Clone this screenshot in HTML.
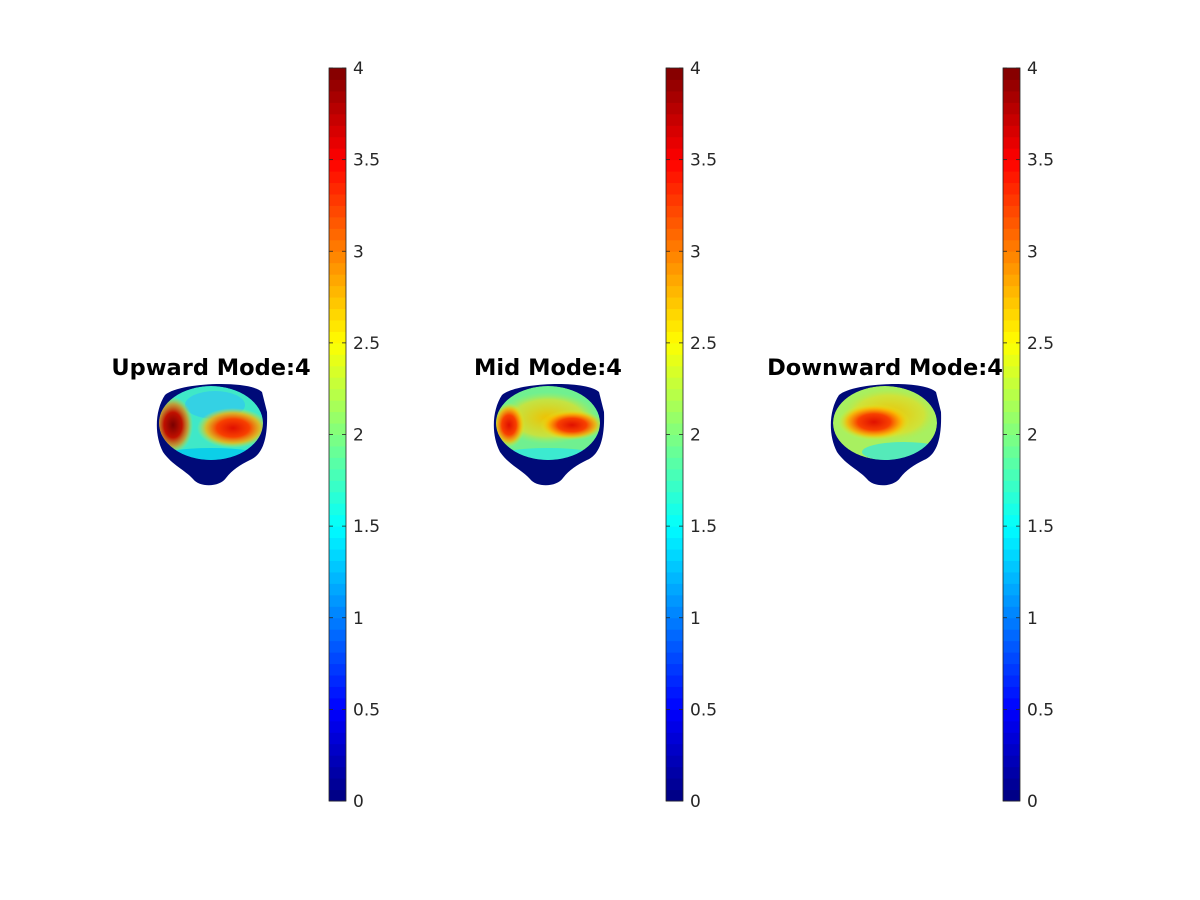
<!DOCTYPE html>
<html><head><meta charset="utf-8"><style>
body{margin:0;background:#fff;}
svg{display:block;font-family:"DejaVu Sans","Liberation Sans",sans-serif;}
</style></head><body>
<svg id="fig" width="1200" height="900" viewBox="0 0 1200 900">
<defs>
<radialGradient id="hotL" cx="50%" cy="50%" r="50%"><stop offset="0" stop-color="#7a0000"/><stop offset="0.45" stop-color="#c01000"/><stop offset="0.75" stop-color="#f08000" stop-opacity="0.7"/><stop offset="1" stop-color="#f0e000" stop-opacity="0"/></radialGradient>
<radialGradient id="hotR" cx="50%" cy="50%" r="50%"><stop offset="0" stop-color="#e01000"/><stop offset="0.45" stop-color="#f84000"/><stop offset="0.75" stop-color="#ffb000" stop-opacity="0.8"/><stop offset="1" stop-color="#e0f020" stop-opacity="0"/></radialGradient>
<radialGradient id="warm" cx="50%" cy="50%" r="50%"><stop offset="0" stop-color="#f0c000"/><stop offset="0.7" stop-color="#d8e030" stop-opacity="0.8"/><stop offset="1" stop-color="#a0f060" stop-opacity="0"/></radialGradient>
<clipPath id="inner"><ellipse cx="211" cy="423" rx="52" ry="37"/></clipPath>
<g id="shape">
<path d="M165,395 C180,382 250,380 262,392 L267,412 C268,440 262,455 250,460 C240,465 232,470 226,478 C220,487 200,488 193,479 C185,470 172,465 163,452 C154,435 155,410 165,395 Z" fill="#000a78"/>
</g>
</defs>
<g id="blobs"></g>
<g id="bars"></g>
</svg>
<script>
const titles=["Upward Mode:4","Mid Mode:4","Downward Mode:4"];
const tickValues=[0,0.5,1,1.5,2,2.5,3,3.5,4];
const tickLabels=["0","0.5","1","1.5","2","2.5","3","3.5","4"];
const cmin=0, cmax=4;
const NS="http://www.w3.org/2000/svg";
function el(t,a,p){const e=document.createElementNS(NS,t);for(const k in a)e.setAttribute(k,a[k]);p.appendChild(e);return e;}
function jet(v){const f=x=>Math.max(0,Math.min(1,x));
 const r=f(1.5-Math.abs(4*v-3)),g=f(1.5-Math.abs(4*v-2)),b=f(1.5-Math.abs(4*v-1));
 return `rgb(${Math.round(r*255)},${Math.round(g*255)},${Math.round(b*255)})`;}
const barTop=68, barBot=801, barW=17;
const y=v=>barBot-(v-cmin)/(cmax-cmin)*(barBot-barTop);
const offsets=[0,337,674];
const blobs=document.getElementById('blobs');
offsets.forEach((dx,i)=>{
 const g=el('g',{transform:`translate(${dx},0)`},blobs);
 
 
 el('use',{href:'#shape'},g);
 const c=el('g',{'clip-path':'url(#inner)'},g);
 if(i===0){
  el('ellipse',{cx:211,cy:423,rx:52,ry:37,fill:'#3fe8c8'},c);
  el('ellipse',{cx:215,cy:405,rx:30,ry:14,fill:'#30c8f0',opacity:0.7},c);
  el('ellipse',{cx:233,cy:428,rx:36,ry:20,fill:'url(#hotR)'},c);
  el('ellipse',{cx:173,cy:425,rx:20,ry:28,fill:'url(#hotL)'},c);
  el('ellipse',{cx:211,cy:456,rx:52,ry:8,fill:'#00c8f0',opacity:0.8},c);
 } else if(i===1){
  el('ellipse',{cx:211,cy:423,rx:52,ry:37,fill:'#70f090'},c);
  el('ellipse',{cx:211,cy:418,rx:50,ry:26,fill:'url(#warm)'},c);
  el('ellipse',{cx:235,cy:425,rx:32,ry:15,fill:'url(#hotR)'},c);
  el('ellipse',{cx:172,cy:425,rx:16,ry:22,fill:'url(#hotR)'},c);
  el('ellipse',{cx:211,cy:456,rx:52,ry:8,fill:'#30e8e0',opacity:0.8},c);
 } else {
  el('ellipse',{cx:211,cy:423,rx:52,ry:37,fill:'#a8f060'},c);
  el('ellipse',{cx:215,cy:415,rx:50,ry:28,fill:'url(#warm)'},c);
  el('ellipse',{cx:200,cy:422,rx:36,ry:18,fill:'url(#hotR)'},c);
  el('ellipse',{cx:230,cy:452,rx:42,ry:10,fill:'#40e8d0',opacity:0.8},c);
 }
 const t=el('text',{x:211,y:375,'text-anchor':'middle','font-size':'22.5','font-weight':'bold',fill:'#000'},g);
 
 
 t.textContent=titles[i];
});
const bars=document.getElementById('bars');
[329,666,1003].forEach((bx,i)=>{
 const g=el('g',{},bars);
 
 
 const N=64;
 for(let k=0;k<N;k++){
  const v0=cmin+k*(cmax-cmin)/N, v1=cmin+(k+1)*(cmax-cmin)/N;
  el('rect',{x:bx,y:y(v1),width:barW,height:y(v0)-y(v1)+0.5,fill:jet((k+0.5)/N)},g);
 }
 el('rect',{x:bx,y:barTop,width:barW,height:barBot-barTop,fill:'none',stroke:'#262626','stroke-width':0.8},g);
 tickValues.forEach((v,j)=>{
  const ty=y(v);
  el('line',{x1:bx+barW-4,x2:bx+barW,y1:ty,y2:ty,stroke:'#262626','stroke-width':0.8},g);
  el('line',{x1:bx,x2:bx+4,y1:ty,y2:ty,stroke:'#262626','stroke-width':0.8},g);
  const t=el('text',{x:bx+24,y:ty+6,'font-size':'17',fill:'#262626'},g);
  
  
  t.textContent=tickLabels[j];
 });
});
</script>
</body></html>
